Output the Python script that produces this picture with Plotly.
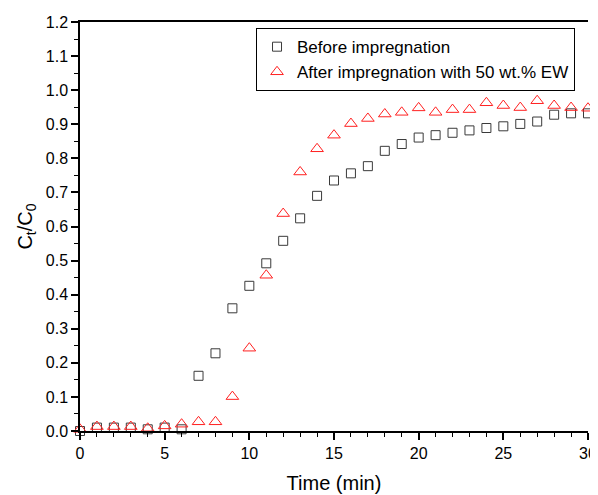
import plotly.graph_objects as go

time_min = list(range(0, 31))
before = [0.0, 0.01, 0.01, 0.01, 0.005, 0.01, 0.005, 0.162, 0.228, 0.360, 0.426,
          0.492, 0.558, 0.624, 0.690, 0.735, 0.756, 0.777, 0.822, 0.842, 0.861,
          0.868, 0.875, 0.882, 0.889, 0.894, 0.901, 0.908, 0.928, 0.932, 0.932]
after = [0.005, 0.013, 0.013, 0.013, 0.008, 0.015, 0.02, 0.027, 0.027, 0.101, 0.243,
         0.457, 0.638, 0.760, 0.828, 0.868, 0.902, 0.917, 0.930, 0.935, 0.948,
         0.935, 0.943, 0.943, 0.963, 0.955, 0.949, 0.969, 0.955, 0.949, 0.947]
names = ["Before impregnation", "After impregnation with 50 wt.% EW"]

FONT = "Liberation Sans, Arial, sans-serif"

fig = go.Figure()
fig.add_trace(go.Scatter(x=time_min, y=before, mode="markers", name=names[0],
                         marker=dict(symbol="square-open", size=9, color="#3a3a3a",
                                     line=dict(width=1)), cliponaxis=False))
fig.add_trace(go.Scatter(x=time_min, y=after, mode="markers", name=names[1],
                         marker=dict(symbol="triangle-up-open", size=11, color="#ff2020",
                                     line=dict(width=1)), cliponaxis=False))

axis_common = dict(showgrid=False, zeroline=False, linecolor="black", linewidth=1.5,
                   ticks="outside", tickcolor="black", tickwidth=1.5, ticklen=7,
                   automargin=False,
                   tickfont=dict(family=FONT, size=16, color="black"))

# page body has an 8px margin, so the figure is sized to fit the 598x495 window
fig.update_layout(
    width=590, height=487,
    margin=dict(l=72, r=10, t=14, b=64),
    plot_bgcolor="white", paper_bgcolor="white",
    font=dict(family=FONT, color="black"),
    showlegend=True,
    legend=dict(x=0.3465, y=0.985, xanchor="left", yanchor="top",
                bordercolor="black", borderwidth=1, bgcolor="white",
                font=dict(family=FONT, size=17, color="black"),
                tracegroupgap=0, itemwidth=30),
    xaxis=dict(range=[0, 30], dtick=5, tick0=0, mirror=True,
               title=dict(text="Time (min)", font=dict(family=FONT, size=20), standoff=15),
               minor=dict(ticks="outside", dtick=1, ticklen=4, tickcolor="black", tickwidth=1.2),
               **axis_common),
    yaxis=dict(range=[0, 1.2], dtick=0.1, tick0=0, tickformat=".1f",
               title=dict(text="C<sub>t</sub>/C<sub>0</sub>", font=dict(family=FONT, size=20), standoff=8),
               minor=dict(ticks="outside", dtick=0.05, ticklen=4, tickcolor="black", tickwidth=1.2),
               **axis_common),
    yaxis2=dict(range=[0, 1.2], dtick=0.1, tick0=0, overlaying="y", side="right",
                showticklabels=False, anchor="x",
                minor=dict(ticks="outside", dtick=0.05, ticklen=4, tickcolor="black", tickwidth=1.2),
                **axis_common),
)

fig.write_html("out.html")
